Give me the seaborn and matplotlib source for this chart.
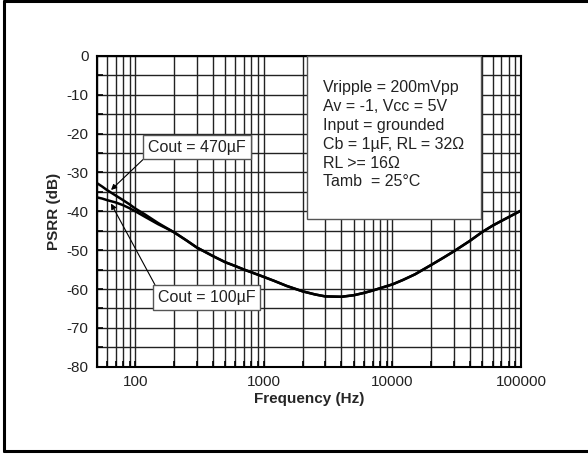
import numpy as np
import pandas as pd
import matplotlib.pyplot as plt
import seaborn as sns
from matplotlib.patches import Rectangle
from matplotlib.lines import Line2D
from matplotlib.ticker import FixedLocator, NullFormatter

# data
freq = [50, 55, 60, 70, 80, 90, 100, 120, 150, 175, 200, 250, 300, 400, 500, 600,
        700, 800, 1000, 1200, 1500, 2000, 2500, 3000, 4000, 5000, 6000, 7000, 8000,
        10000, 12000, 15000, 20000, 25000, 30000, 40000, 50000, 60000, 70000,
        80000, 100000]
psrr_470 = [-32.7, -33.6, -34.5, -35.9, -37.1, -38.2, -39.3, -40.9, -43.0, -44.3,
            -45.4, -47.5, -49.3, -51.5, -53.1, -54.1, -55.0, -55.7, -56.9, -57.9,
            -59.2, -60.6, -61.4, -61.9, -62.0, -61.6, -61.0, -60.4, -59.8, -58.8,
            -57.7, -56.2, -53.8, -51.9, -50.3, -47.6, -45.3, -43.7, -42.5, -41.5,
            -39.8]
psrr_100 = [-36.4, -36.7, -37.1, -37.7, -38.4, -39.2, -40.0, -41.5, -43.3, -44.4,
            -45.4, -47.5, -49.3, -51.5, -53.1, -54.1, -55.0, -55.7, -56.9, -57.9,
            -59.2, -60.6, -61.4, -61.9, -62.0, -61.6, -61.0, -60.4, -59.8, -58.8,
            -57.7, -56.2, -53.8, -51.9, -50.3, -47.6, -45.3, -43.7, -42.5, -41.5,
            -39.8]
x_ticks = [100, 1000, 10000, 100000]
x_labels = ['100', '1000', '10000', '100000']
y_ticks = [0, -10, -20, -30, -40, -50, -60, -70, -80]

conditions = ("Vripple = 200mVpp\nAv = -1, Vcc = 5V\nInput = grounded\n"
              "Cb = 1\u00b5F, RL = 32\u03a9\nRL >= 16\u03a9\nTamb  = 25\u00b0C")

df = pd.DataFrame({
    'Frequency': freq * 2,
    'PSRR': psrr_470 + psrr_100,
    'Cout': ['470uF'] * len(freq) + ['100uF'] * len(freq),
})

sns.set_theme(style='white')
plt.rcParams['font.family'] = ['Liberation Sans', 'DejaVu Sans']

fig = plt.figure(figsize=(5.88, 4.54), dpi=100)
ax = fig.add_axes([0.1645, 0.1923, 0.7216, 0.6844])

sns.lineplot(data=df, x='Frequency', y='PSRR', units='Cout', estimator=None,
             color='black', linewidth=1.8, ax=ax, legend=False, zorder=4)

ax.set_xscale('log')
ax.set_xlim(50, 100000)
ax.set_ylim(-80, 0)

# grid: every 1..9 per decade, every 5 dB
minor_x = [m * 10 ** d for d in range(1, 5) for m in range(2, 10) if 50 <= m * 10 ** d <= 100000]
ax.xaxis.set_major_locator(FixedLocator(x_ticks))
ax.set_xticklabels(x_labels)
ax.xaxis.set_minor_locator(FixedLocator(minor_x))
ax.xaxis.set_minor_formatter(NullFormatter())
ax.set_yticks(y_ticks)
ax.set_yticklabels([str(v) for v in y_ticks])
ax.yaxis.set_minor_locator(FixedLocator([-75, -65, -55, -45, -35, -25, -15, -5]))
ax.grid(which='both', color='#222222', linewidth=1.0)
ax.tick_params(which='both', direction='in', length=4, width=1.2, color='black',
               bottom=True, left=True, labelsize=11, labelcolor='#222222', pad=6)
for s in ax.spines.values():
    s.set_color('black')
    s.set_linewidth(1.5)

ax.set_xlabel('Frequency (Hz)', fontsize=11, fontweight='bold', labelpad=2)
ax.set_ylabel('PSRR (dB)', fontsize=11, fontweight='bold', labelpad=4)

# conditions box
ax.add_patch(Rectangle((0.4963, 0.4754), 0.4094, 0.5246, transform=ax.transAxes,
                       facecolor='white', edgecolor='#555555', linewidth=1.0,
                       zorder=5, clip_on=False))
ax.text(0.534, 0.922, conditions, transform=ax.transAxes, ha='left', va='top',
        fontsize=11.5, linespacing=1.32, color='#222222', zorder=6)

# curve labels
ax.annotate('Cout = 470\u00b5F', xy=(64.6, -34.5), xytext=(302, -23.45),
            ha='center', va='center', fontsize=11.5, color='#222222', zorder=7,
            bbox=dict(boxstyle='square,pad=0.3', fc='white', ec='#555555', lw=1.0),
            arrowprops=dict(arrowstyle='-|>', color='black', lw=0.8,
                            mutation_scale=8, relpos=(0, 0), shrinkA=0, shrinkB=0))
ax.annotate('Cout = 100\u00b5F', xy=(64.6, -38.0), xytext=(358, -62.2),
            ha='center', va='center', fontsize=11.5, color='#222222', zorder=7,
            bbox=dict(boxstyle='square,pad=0.3', fc='white', ec='#555555', lw=1.0),
            arrowprops=dict(arrowstyle='-|>', color='black', lw=0.8,
                            mutation_scale=8, relpos=(0, 1), shrinkA=0, shrinkB=0))

# outer frame (right edge falls outside the picture)
for xs, ys in [([0.0068, 0.0068], [0.0077, 0.997]),
               ([0.0068, 1.0], [0.997, 0.997]),
               ([0.0068, 1.0], [0.0077, 0.0077])]:
    fig.add_artist(Line2D(xs, ys, transform=fig.transFigure, color='black', linewidth=2.2))

fig.savefig('out.png', dpi=100)
